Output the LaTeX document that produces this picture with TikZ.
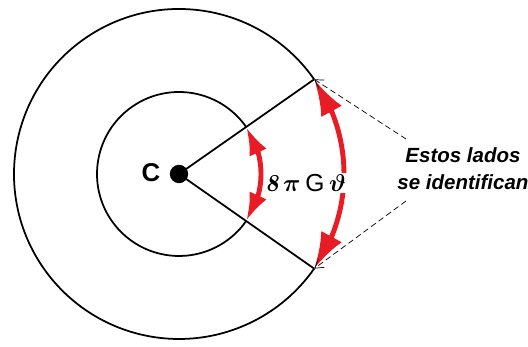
\documentclass[tikz,border=0pt]{standalone}
\usepackage{amsmath}
\usepackage{fontspec}
\setsansfont{Liberation Sans}
\usepackage{tikz}
\usetikzlibrary{arrows.meta, positioning, calc}
\definecolor{cRed}{RGB}{232,28,36}
\tikzset{
	ring/.style     ={draw=black, line width=1.5pt},
	spoke/.style    ={draw=black, line width=1.5pt},
	dot/.style      ={circle, fill=black, minimum size=0.55cm, inner sep=0pt},
	angarc/.style   ={draw=cRed, line width=4.2pt},
	inhead/.tip     ={Latex[length=24pt, width=16pt]},
	outhead/.tip    ={Latex[length=31pt, width=20pt]},
	note/.style     ={font=\sffamily\bfseries\itshape\fontsize{17.5}{23}\selectfont, align=center},
	pointer/.style  ={dash pattern=on 5pt off 3pt, line width=0.6pt, -{Straight Barb[length=2.5mm, width=3mm]}},
}
\begin{document}
\begin{tikzpicture}[x=0.03cm, y=0.03cm]
	\useasboundingbox (0,0) rectangle (528,347);
	% centre and the two rings with the wedge cut out
	\node[dot] (C) at (179,173) {};
	\node[font=\sffamily\bfseries\fontsize{22}{22}\selectfont] (Clab) at (151,174) {C};
	\draw[ring] ($(C)+(35:165)$) arc[start angle=35, end angle=325, radius=165];
	\draw[ring] ($(C)+(35:82)$) arc[start angle=35, end angle=325, radius=82];
	\coordinate (oU) at ($(C)+(35:165)$);
	\coordinate (oL) at ($(C)+(-35:165)$);
	\coordinate (iU) at ($(C)+(35:82)$);
	\coordinate (iL) at ($(C)+(-35:82)$);
	\draw[spoke] (C.center) -- (oU);
	\draw[spoke] (C.center) -- (oL);
	% angle arcs, heads drawn along the chords
	\draw[angarc] ($(C)+(-20:82)$) arc[start angle=-20, end angle=20, radius=82];
	\draw[angarc, -inhead] ($(C)+(15:82)$) -- (iU);
	\draw[angarc, -inhead] ($(C)+(-15:82)$) -- (iL);
	\draw[angarc] ($(C)+(-25:165)$) arc[start angle=-25, end angle=25, radius=165];
	\draw[angarc, -outhead] ($(C)+(22:165)$) -- (oU);
	\draw[angarc, -outhead] ($(C)+(-22:165)$) -- (oL);
	\node[fill=white, inner sep=1pt, font=\fontsize{21}{22}\selectfont\boldmath] (ang) at (306,164) {$\mathit{8}\,\pi\,\textsf{G}\,\vartheta$};
	% the note
	\node[note] (lados) at (463,178) {Estos lados\\se identifican};
	\coordinate (dU) at (406,208);
	\coordinate (dL) at (406,146);
	\draw[pointer] (dU) -- (oU);
	\draw[pointer] (dL) -- (oL);
\end{tikzpicture}
\end{document}
